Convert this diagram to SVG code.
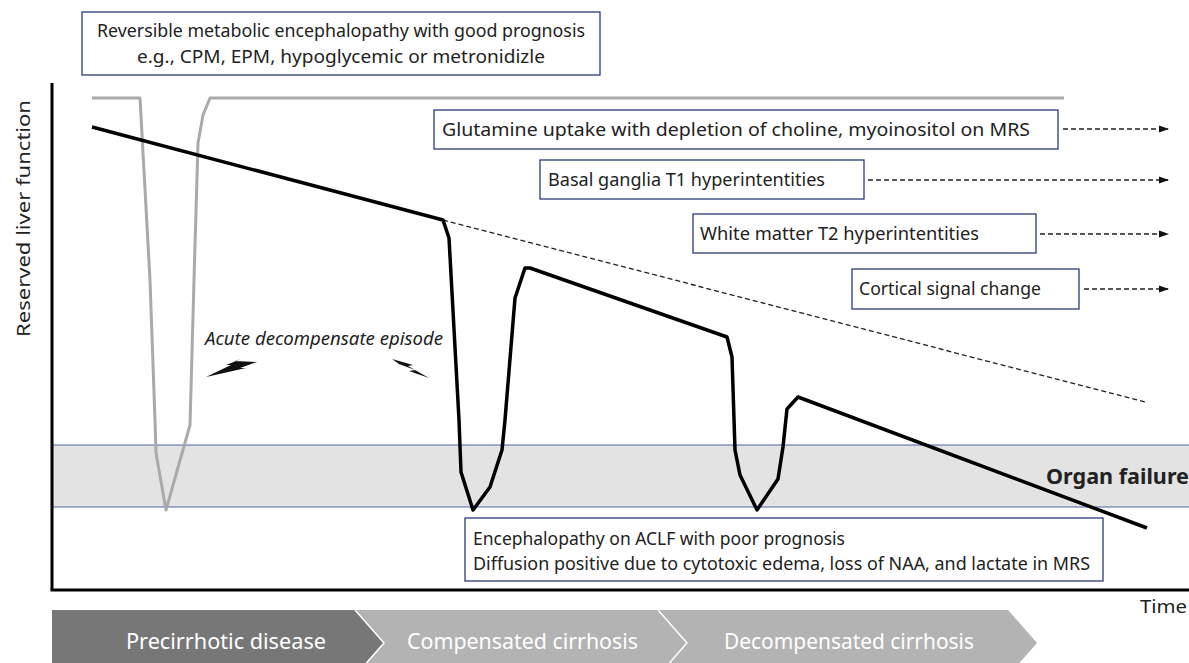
<svg xmlns="http://www.w3.org/2000/svg" width="1189" height="663" viewBox="0 0 1189 663">
<style>
.t{font-family:"Noto Sans","Liberation Sans",sans-serif;font-size:18px;fill:#222}
.box{fill:#fff;stroke:#2b3a78;stroke-width:1.3}
.dash{fill:none;stroke:#222;stroke-width:1.3;stroke-dasharray:5,3}
.ch{font-family:"Noto Sans","Liberation Sans",sans-serif;font-size:22px;fill:#fff}
</style>
<defs>
<marker id="ah" markerWidth="10" markerHeight="8" refX="9" refY="4" orient="auto" markerUnits="userSpaceOnUse">
<path d="M0,0.5 L10,4 L0,7.5 Z" fill="#111"/>
</marker>
</defs>
<rect width="1189" height="663" fill="#fff"/>
<g id="organ-failure-band">
<rect x="52" y="445" width="1137" height="62" fill="#e4e3e3"/>
<line x1="52" y1="445" x2="1189" y2="445" stroke="#4a64a0" stroke-width="1.2"/>
<line x1="52" y1="507" x2="1189" y2="507" stroke="#4a64a0" stroke-width="1.2"/>
<text x="1046" y="484" font-family="Noto Sans, Liberation Sans, sans-serif" font-size="21" font-weight="bold" fill="#222" textLength="143" lengthAdjust="spacingAndGlyphs">Organ failure</text>
</g>
<g id="axes">
<line x1="52" y1="83" x2="52" y2="590" stroke="#000" stroke-width="3"/>
<line x1="50.5" y1="590" x2="1189" y2="590" stroke="#000" stroke-width="3"/>
<text transform="translate(30,337) rotate(-90)" class="t" font-size="21" textLength="237" lengthAdjust="spacingAndGlyphs">Reserved liver function</text>
<text x="1140" y="613" class="t" font-size="19" textLength="47" lengthAdjust="spacingAndGlyphs">Time</text>
</g>
<g id="curves">
<polyline points="92,98 140,98 150,280 155,420 156,453 166,510 190,425 194,280 198,143 203,115 210,98 1064,98" fill="none" stroke="#aaa" stroke-width="3" stroke-linejoin="round"/>
<line x1="443" y1="220" x2="1145" y2="402" class="dash"/>
<polyline points="92,127 443,220 449,238 459,420 461,472 473,510 490,487 502,450 505,420 515,298 525,268 530,268 727,337 732,357 735,450 740,475 757,510 778,479 783,447 787,409 798,397 1147,528" fill="none" stroke="#000" stroke-width="3.5" stroke-linejoin="round"/>
</g>
<g id="acute-episode">
<text x="205" y="345" class="t" font-size="19" font-style="italic" textLength="238" lengthAdjust="spacingAndGlyphs">Acute decompensate episode</text>
<polygon points="206,377 231,365 226,365 241,359 235,361 257,362 240,368 246,368" fill="#111"/>
<polygon points="392,359 413,365 408,366 429,378 409,371 415,370 399,364" fill="#111"/>
</g>
<g id="node-reversible">
<rect x="82" y="12" width="518" height="63" class="box"/>
<text x="341" y="37" class="t" text-anchor="middle" textLength="488" lengthAdjust="spacingAndGlyphs">Reversible metabolic encephalopathy with good prognosis</text>
<text x="341" y="63" class="t" text-anchor="middle" textLength="408" lengthAdjust="spacingAndGlyphs">e.g., CPM, EPM, hypoglycemic or metronidizle</text>
</g>
<g id="node-glutamine">
<rect x="434" y="110" width="624" height="39" class="box"/>
<text x="442" y="136" class="t" textLength="588" lengthAdjust="spacingAndGlyphs">Glutamine uptake with depletion of choline, myoinositol on MRS</text>
</g>
<g id="node-basal">
<rect x="540" y="160" width="324" height="39" class="box"/>
<text x="548" y="186" class="t" textLength="277" lengthAdjust="spacingAndGlyphs">Basal ganglia T1 hyperintentities</text>
</g>
<g id="node-white">
<rect x="693" y="214" width="343" height="39" class="box"/>
<text x="700" y="240" class="t" textLength="279" lengthAdjust="spacingAndGlyphs">White matter T2 hyperintentities</text>
</g>
<g id="node-cortical">
<rect x="852" y="269" width="227" height="40" class="box"/>
<text x="859" y="295" class="t" textLength="182" lengthAdjust="spacingAndGlyphs">Cortical signal change</text>
</g>
<g id="node-aclf">
<rect x="465" y="518" width="638" height="63" class="box"/>
<text x="473" y="545" class="t" textLength="372" lengthAdjust="spacingAndGlyphs">Encephalopathy on ACLF with poor prognosis</text>
<text x="473" y="570" class="t" textLength="617" lengthAdjust="spacingAndGlyphs">Diffusion positive due to cytotoxic edema, loss of NAA, and lactate in MRS</text>
</g>
<g id="connectors">
<line x1="1063" y1="129" x2="1168" y2="129" class="dash" marker-end="url(#ah)"/>
<line x1="868" y1="180" x2="1168" y2="180" class="dash" marker-end="url(#ah)"/>
<line x1="1040" y1="234" x2="1168" y2="234" class="dash" marker-end="url(#ah)"/>
<line x1="1084" y1="289" x2="1168" y2="289" class="dash" marker-end="url(#ah)"/>
</g>
<g id="stages">
<polygon points="52,610 355,610 384,643 355,676 52,676" fill="#777"/>
<polygon points="355,610 658,610 687,643 658,676 355,676 384,643" fill="#b3b3b3"/>
<polygon points="658,610 1008,610 1037,643 1008,676 658,676 687,643" fill="#b3b3b3"/>
<polyline points="355,610 384,643 355,676" fill="none" stroke="#fff" stroke-width="1.5"/>
<polyline points="658,610 687,643 658,676" fill="none" stroke="#fff" stroke-width="1.5"/>
<text x="126" y="649" class="ch" textLength="200" lengthAdjust="spacingAndGlyphs">Precirrhotic disease</text>
<text x="407" y="649" class="ch" textLength="231" lengthAdjust="spacingAndGlyphs">Compensated cirrhosis</text>
<text x="724" y="649" class="ch" textLength="250" lengthAdjust="spacingAndGlyphs">Decompensated cirrhosis</text>
</g>
</svg>
